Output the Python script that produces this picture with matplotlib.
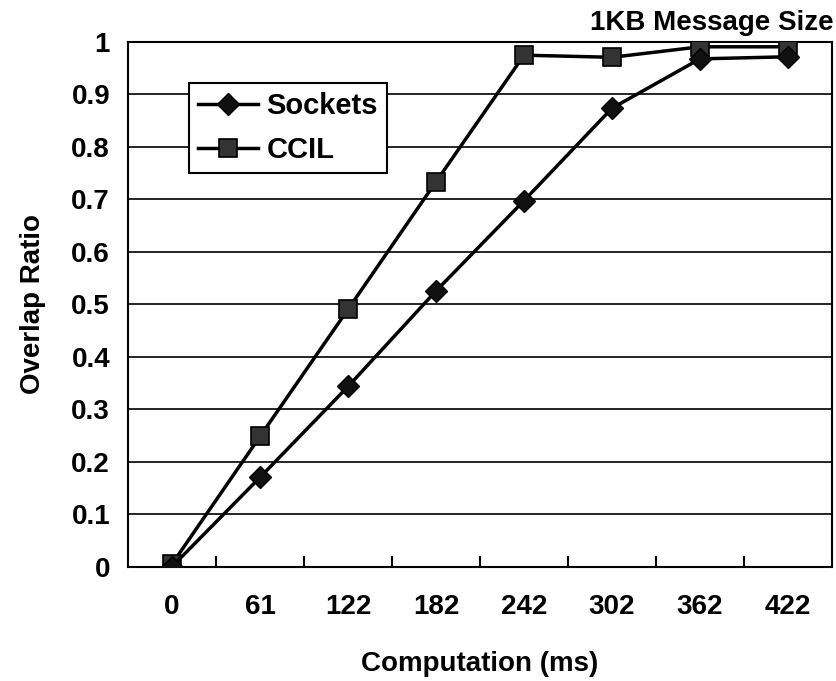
import numpy as np
import matplotlib.pyplot as plt

# Data
computation = ["0", "61", "122", "182", "242", "302", "362", "422"]
sockets = [0.0, 0.17, 0.343, 0.525, 0.697, 0.873, 0.967, 0.971]
ccil = [0.005, 0.248, 0.49, 0.733, 0.974, 0.97, 0.99, 0.99]

plt.rcParams['font.family'] = ['Liberation Sans', 'DejaVu Sans']
plt.rcParams['font.weight'] = 'bold'

fig = plt.figure(figsize=(8.37, 6.81), dpi=100)
ax = fig.add_axes([0.153, 0.168, 0.841, 0.771])

x = np.arange(len(computation))
ax.plot(x, sockets, color='black', lw=2.5, marker='D', markersize=11,
        markerfacecolor='#111111', markeredgecolor='black', label='Sockets', zorder=4)
ax.plot(x, ccil, color='black', lw=2.5, marker='s', markersize=13.5,
        markerfacecolor='#333333', markeredgecolor='black', markeredgewidth=1.2,
        label='CCIL', zorder=3)

ax.set_xlim(-0.5, len(computation) - 0.5)
ax.set_ylim(0, 1)
ax.set_yticks(np.arange(0, 1.01, 0.1))
ax.set_yticklabels(["0"] + ["%.1f" % v for v in np.arange(0.1, 0.95, 0.1)] + ["1"])
ax.yaxis.grid(True, color='black', lw=1.2)
ax.set_axisbelow(True)

ax.set_xticks(x)
ax.set_xticklabels(computation)
ax.set_xticks(np.arange(0.5, len(computation) - 1, 1.0), minor=True)
ax.tick_params(axis='x', which='major', length=0, pad=20, labelsize=20)
ax.tick_params(axis='x', which='minor', direction='in', length=8, width=1.5)
ax.tick_params(axis='y', length=0, pad=13, labelsize=20)

for s in ax.spines.values():
    s.set_linewidth(1.5)
    s.set_color('black')

ax.set_xlabel("Computation (ms)", fontsize=20, fontweight='bold', labelpad=22)
ax.set_ylabel("Overlap Ratio", fontsize=20, fontweight='bold', labelpad=18)
fig.text(0.996, 0.966, "1KB Message Size", ha='right', va='center',
         fontsize=20, fontweight='bold')

leg = ax.legend(loc='upper left', bbox_to_anchor=(0.087, 0.921), fontsize=21,
                frameon=True, fancybox=False, edgecolor='black', framealpha=1,
                handlelength=2.05, borderpad=0.3, labelspacing=0.55, handletextpad=0.3,
                borderaxespad=0)
leg.get_frame().set_linewidth(1.5)

fig.savefig("out.png", dpi=100)
